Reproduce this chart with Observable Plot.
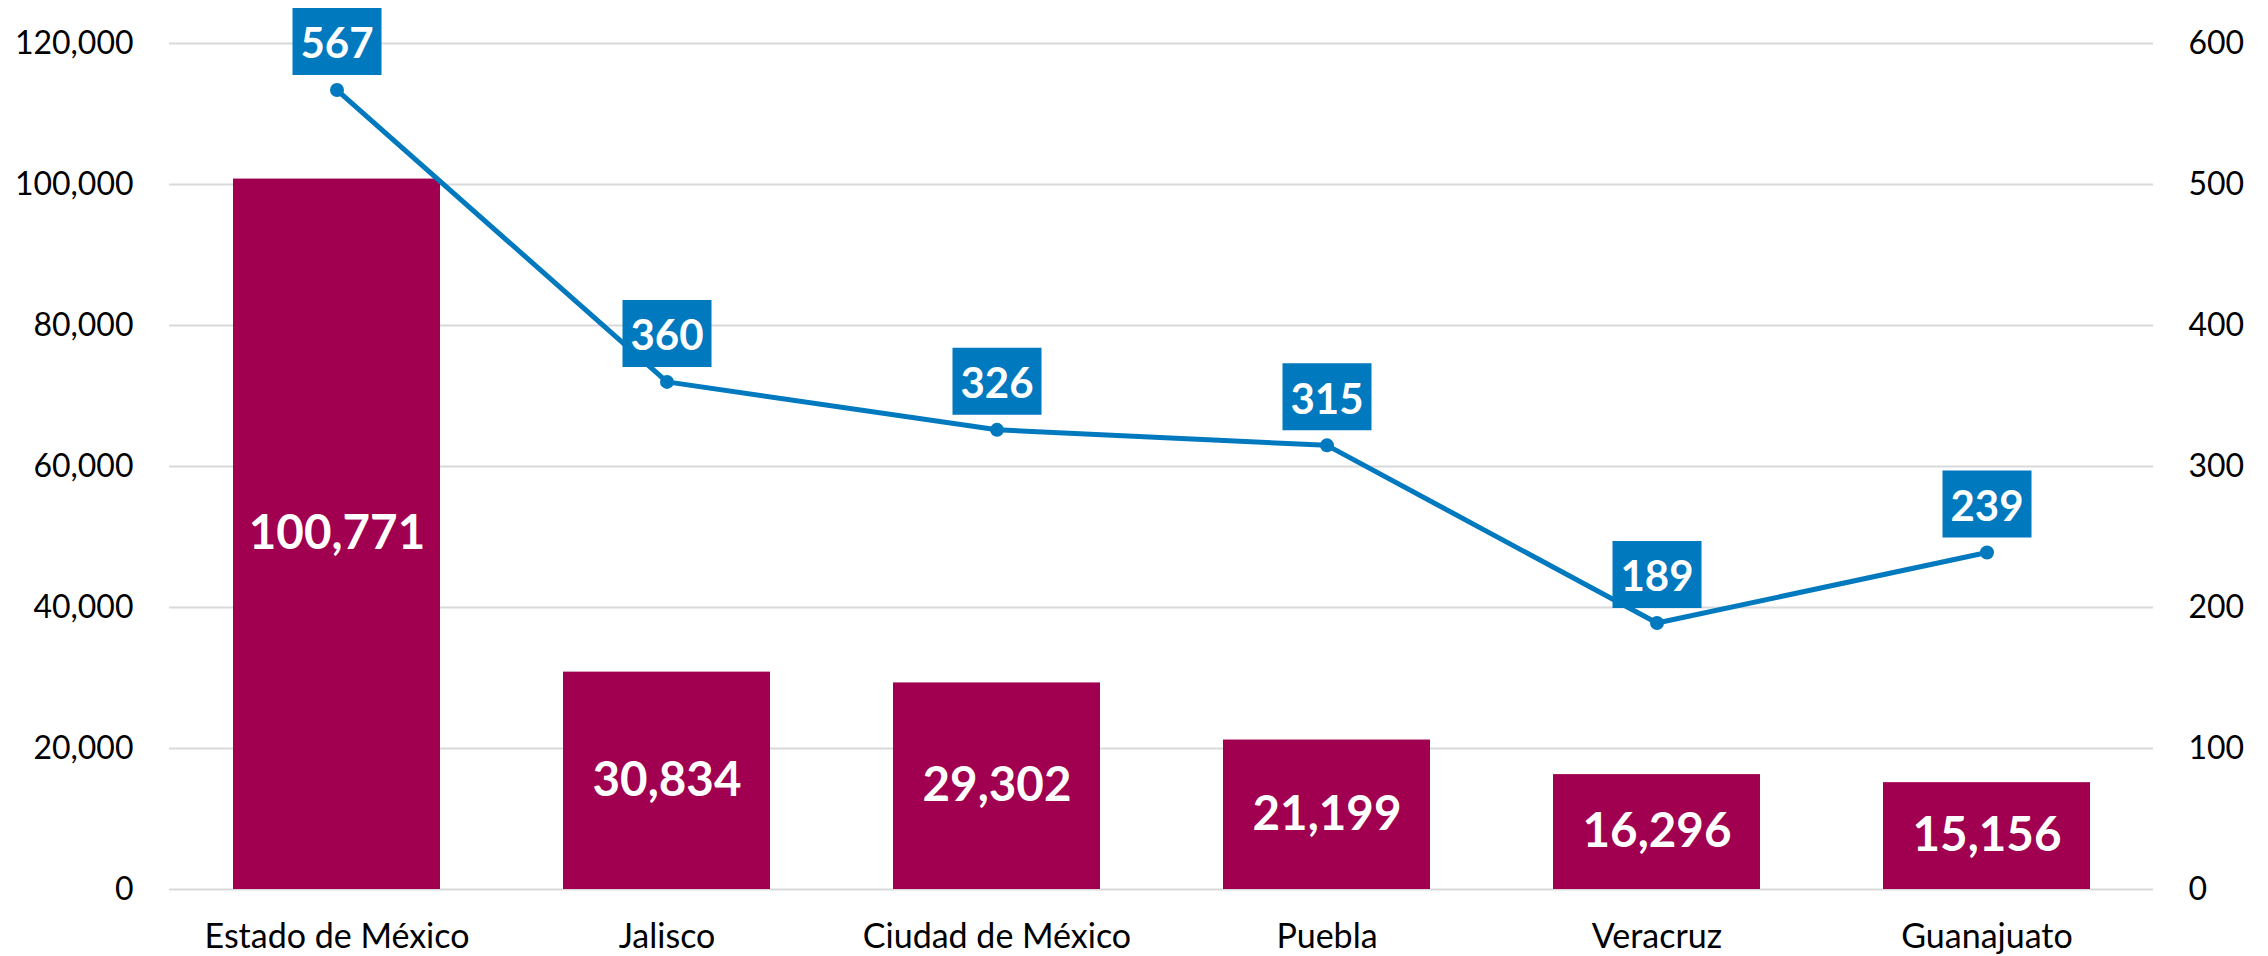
<!DOCTYPE html>
<html>
<head>
<meta charset="utf-8">
<script src="https://cdn.jsdelivr.net/npm/d3@7"></script>
<script src="https://cdn.jsdelivr.net/npm/@observablehq/plot@0.6"></script>
<style>
  html, body { margin: 0; padding: 0; background: #fff; }
  #chart { width: 2268px; height: 956px; }
</style>
</head>
<body>
<div id="chart"></div>
<script>
const states = ["Estado de México", "Jalisco", "Ciudad de México", "Puebla", "Veracruz", "Guanajuato"];
const barValues = [100771, 30834, 29302, 21199, 16296, 15156];
const lineValues = [567, 360, 326, 315, 189, 239];
const leftTicks = [0, 20000, 40000, 60000, 80000, 100000, 120000];
const rightTicks = [0, 100, 200, 300, 400, 500, 600];

const barColor = "#A0004F";
const lineColor = "#0079BF";
const ratio = leftTicks[leftTicks.length - 1] / rightTicks[rightTicks.length - 1];

const data = states.map((s, i) => ({state: s, bar: barValues[i], line: lineValues[i]}));

const boxSymbol = {
  draw(ctx) { ctx.rect(-44.5, -33.5, 89, 67); }
};

const fmt = d3.format(",");

const chart = Plot.plot({
  width: 2268,
  height: 956,
  marginLeft: 169,
  marginRight: 115,
  marginTop: 43,
  marginBottom: 67,
  style: {fontFamily: "Lato, sans-serif", color: "#000", background: "#fff"},
  x: {domain: states, paddingInner: 0.374, paddingOuter: 0.187, label: null},
  y: {domain: [0, leftTicks[leftTicks.length - 1]], label: null},
  marks: [
    Plot.gridY(leftTicks, {stroke: "#d9d9d9", strokeOpacity: 1, strokeWidth: 2}),
    Plot.barY(data, {x: "state", y: "bar", fill: barColor}),
    Plot.text(data, {x: "state", y: d => d.bar / 2, text: d => fmt(d.bar), fill: "#fff", fontSize: 47.5, fontWeight: "bold"}),
    Plot.line(data, {x: "state", y: d => d.line * ratio, stroke: lineColor, strokeWidth: 5}),
    Plot.dot(data, {x: "state", y: d => d.line * ratio, r: 7, fill: lineColor, stroke: "none"}),
    Plot.dot(data, {x: "state", y: d => d.line * ratio, symbol: boxSymbol, r: 10, fill: lineColor, stroke: "none", dy: -48.5}),
    Plot.text(data, {x: "state", y: d => d.line * ratio, text: d => String(d.line), fill: "#fff", fontSize: 42, fontWeight: "bold", dy: -45}),
    Plot.axisY({anchor: "left", ticks: leftTicks, tickFormat: fmt, tickSize: 0, tickPadding: 36, fontSize: 32, label: null}),
    Plot.axisY({anchor: "right", ticks: rightTicks.map(v => v * ratio), tickFormat: d => String(d / ratio), tickSize: 0, tickPadding: 35, fontSize: 32, label: null}),
    Plot.axisX({anchor: "bottom", tickSize: 0, tickPadding: 34, fontSize: 34, label: null})
  ]
});
document.getElementById("chart").appendChild(chart);
</script>
</body>
</html>
